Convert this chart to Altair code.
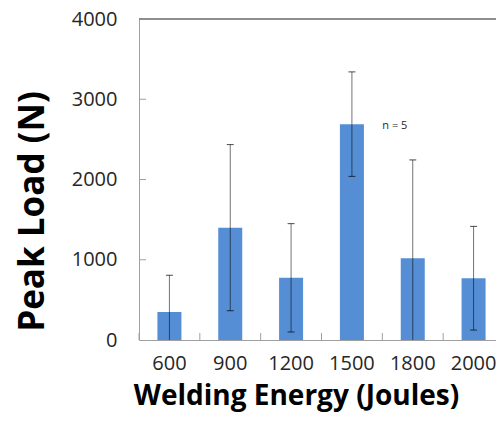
import altair as alt
import pandas as pd

# ---- data ----
energy = ["600", "900", "1200", "1500", "1800", "2000"]
peak_load = [350, 1400, 775, 2690, 1020, 770]
std_dev = [457, 1035, 675, 651, 1224, 646]

y_ticks = [0, 1000, 2000, 3000, 4000]
annot_x = ["1800"]
annot_y = [2670]
annot_text = ["n = 5"]

df = pd.DataFrame({"energy": energy, "load": peak_load, "sd": std_dev})
df["low"] = (df["load"] - df["sd"]).clip(lower=0)
df["high"] = df["load"] + df["sd"]

caps = pd.concat([
    pd.DataFrame({"energy": df["energy"], "cap": df["high"]}),
    pd.DataFrame({"energy": df["energy"], "cap": df["low"]})[df["low"] > 0],
])
ticks_df = pd.DataFrame({"t": y_ticks[1:-1]})
annot = pd.DataFrame({"energy": annot_x, "y": annot_y, "text": annot_text})

FONT = "Open Sans"
AXIS_GRAY = "#a0a0a0"
PLOT_W = 357          # visible part of the plot area (page is clipped at the right)
BAND_RANGE = 365      # full category range, last band partially off-page
PLOT_H = 321

xscale = alt.Scale(domain=energy, range=[0, BAND_RANGE], paddingInner=0, paddingOuter=0)
yscale = alt.Scale(domain=[0, 4000], nice=False, zero=True)

x_axis = alt.Axis(
    labelAngle=0, ticks=False, labelPadding=13, labelFont=FONT, labelFontSize=20,
    labelColor="#262626", domainColor=AXIS_GRAY, domainWidth=1,
    title="Welding Energy (Joules)", titleFont=FONT, titleFontSize=28,
    titleFontWeight="bold", titleColor="#000000", titleX=157, titleY=64,
    titleAlign="center", titleBaseline="alphabetic",
)
y_axis = alt.Axis(
    values=y_ticks, format="d", ticks=False, grid=False, labelPadding=22, labelFont=FONT,
    labelFontSize=20, labelColor="#262626", domainColor=AXIS_GRAY, domainWidth=1,
    title="Peak Load (N)", titleFont=FONT, titleFontSize=35, titleFontWeight="bold",
    titleColor="#000000", titleAngle=270, titleX=-107, titleY=192,
    titleAlign="center", titleBaseline="middle",
)

X = alt.X("energy:N", sort=energy, scale=xscale, axis=x_axis)

bars = alt.Chart(df).mark_bar(size=24, color="#558ed5").encode(
    x=X,
    y=alt.Y("load:Q", scale=yscale, axis=y_axis),
)

err = alt.Chart(df).mark_rule(color="#000000", opacity=0.55, strokeWidth=1).encode(
    x=alt.X("energy:N", sort=energy, scale=xscale),
    y=alt.Y("low:Q", scale=yscale),
    y2="high:Q",
)

cap_marks = alt.Chart(caps).mark_tick(color="#000000", opacity=0.7, size=7, thickness=1).encode(
    x=alt.X("energy:N", sort=energy, scale=xscale),
    y=alt.Y("cap:Q", scale=yscale),
)

ytick_marks = alt.Chart(ticks_df).mark_rule(color=AXIS_GRAY, strokeWidth=1).encode(
    x=alt.value(0), x2=alt.value(7),
    y=alt.Y("t:Q", scale=yscale),
)

xtick_marks = alt.Chart(df).mark_rule(color=AXIS_GRAY, strokeWidth=1).encode(
    x=alt.X("energy:N", sort=energy, scale=xscale, bandPosition=0),
    y=alt.value(PLOT_H - 7), y2=alt.value(PLOT_H),
)

top_line = alt.Chart(df).mark_rule(color="#8c8c8c", strokeWidth=1).encode(
    x=alt.value(0), x2=alt.value(BAND_RANGE), y=alt.value(0),
)

text = alt.Chart(annot).mark_text(
    align="left", baseline="middle", fontSize=11, font=FONT, color="#262626"
).encode(
    x=alt.X("energy:N", sort=energy, scale=xscale, bandPosition=0),
    y=alt.Y("y:Q", scale=yscale),
    text="text:N",
)

chart = alt.layer(
    bars, err, cap_marks, ytick_marks, xtick_marks, top_line, text
).properties(
    width=PLOT_W,
    height=PLOT_H,
    autosize=alt.AutoSizeParams(type="none"),
    padding={"left": 131, "top": 11, "right": 0, "bottom": 72},
).configure_view(stroke=None).configure(background="#ffffff")

chart.save("out.html", embed_options={"renderer": "svg", "actions": False})
